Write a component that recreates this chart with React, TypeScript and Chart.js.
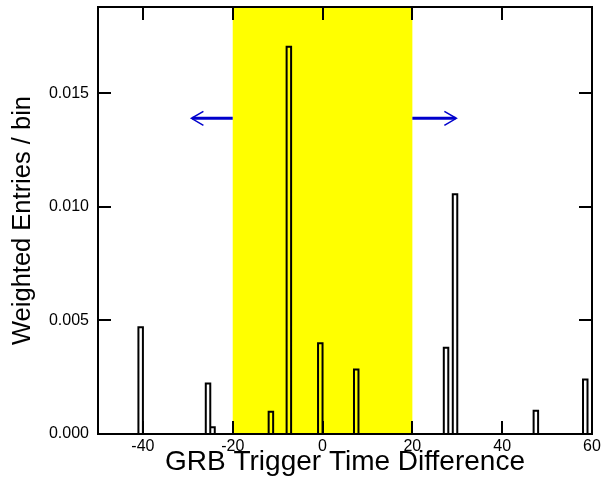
import React, { useEffect, useRef } from "react";
import { Chart, registerables } from "chart.js";

Chart.register(...registerables);

// Histogram bins (lower edge, width 1) and weighted entries
const binLowEdges = [-41, -26, -25, -12, -8, -1, 7, 27, 29, 47, 58];
const binValues = [0.0047, 0.00222, 0.0003, 0.00098, 0.01705, 0.0040, 0.00284, 0.0038, 0.01056, 0.00102, 0.0024];
const binWidth = 1;

const xTickValues = [-40, -20, 0, 20, 40, 60];
const yTickValues = [0, 0.005, 0.01, 0.015];

const bandRange = [-20, 20];
const arrowY = 0.0139;
const arrowStarts = [-20, 20];
const arrowEnds = [-29.2, 29.8];

const X_MIN = -50;
const X_MAX = 60;
const Y_MIN = 0;
const Y_MAX = 0.0188;

function buildOutline() {
  const pts: { x: number; y: number }[] = [];
  binLowEdges.forEach((lo, i) => {
    const hi = lo + binWidth;
    const v = binValues[i];
    pts.push({ x: lo, y: 0 }, { x: lo, y: v }, { x: hi, y: v }, { x: hi, y: 0 });
  });
  return pts;
}

const bandPlugin = {
  id: "band",
  beforeDatasetsDraw(chart: any) {
    const { ctx, chartArea, scales } = chart;
    const x0 = scales.x.getPixelForValue(bandRange[0]);
    const x1 = scales.x.getPixelForValue(bandRange[1]);
    ctx.save();
    ctx.fillStyle = "#ffff00";
    ctx.fillRect(x0, chartArea.top, x1 - x0, chartArea.bottom - chartArea.top);
    ctx.restore();
  },
};

const arrowPlugin = {
  id: "arrows",
  afterDatasetsDraw(chart: any) {
    const { ctx, scales } = chart;
    const y = scales.y.getPixelForValue(arrowY);
    ctx.save();
    ctx.strokeStyle = "#0000cc";
    arrowStarts.forEach((s, i) => {
      const xs = scales.x.getPixelForValue(s);
      const xe = scales.x.getPixelForValue(arrowEnds[i]);
      const dir = xe < xs ? 1 : -1;
      ctx.lineWidth = 3;
      ctx.beginPath();
      ctx.moveTo(xs, y);
      ctx.lineTo(xe + dir * 1, y);
      ctx.stroke();
      ctx.lineWidth = 1.5;
      ctx.beginPath();
      ctx.moveTo(xe + dir * 12, y - 7);
      ctx.lineTo(xe, y);
      ctx.lineTo(xe + dir * 12, y + 7);
      ctx.stroke();
    });
    ctx.restore();
  },
};

const framePlugin = {
  id: "frame",
  afterDraw(chart: any) {
    const { ctx, chartArea, scales } = chart;
    const { left, right, top, bottom } = chartArea;
    const t = 13;
    ctx.save();
    ctx.strokeStyle = "#000";
    ctx.lineWidth = 2;
    ctx.beginPath();
    xTickValues.forEach((v) => {
      const x = Math.round(scales.x.getPixelForValue(v));
      ctx.moveTo(x, bottom);
      ctx.lineTo(x, bottom - t);
      ctx.moveTo(x, top);
      ctx.lineTo(x, top + t);
    });
    yTickValues.forEach((v) => {
      const y = Math.round(scales.y.getPixelForValue(v));
      ctx.moveTo(left, y);
      ctx.lineTo(left + t, y);
      ctx.moveTo(right, y);
      ctx.lineTo(right - t, y);
    });
    ctx.stroke();
    ctx.strokeRect(left, top, right - left, bottom - top);
    ctx.restore();
  },
};

const FONT = "Liberation Sans, Arial, sans-serif";

export default function App() {
  const ref = useRef<HTMLCanvasElement>(null);
  useEffect(() => {
    document.body.style.margin = "0";
    const canvas = ref.current!;
    const chart = new Chart(canvas, {
      type: "line",
      data: {
        datasets: [
          {
            data: buildOutline(),
            borderColor: "#000",
            borderWidth: 2,
            pointRadius: 0,
            tension: 0,
            fill: false,
          },
        ],
      },
      options: {
        animation: false,
        responsive: false,
        devicePixelRatio: 1,
        layout: { padding: { top: 7, right: 10, left: 0, bottom: 0 } },
        plugins: { legend: { display: false }, tooltip: { enabled: false } },
        scales: {
          x: {
            type: "linear",
            min: X_MIN,
            max: X_MAX,
            grid: { display: false, drawTicks: false },
            border: { display: false },
            afterBuildTicks: (s: any) => {
              s.ticks = xTickValues.map((v) => ({ value: v }));
            },
            afterFit: (s: any) => {
              s.height = 45;
              s.paddingLeft = 0;
              s.paddingRight = 0;
            },
            ticks: {
              color: "#000",
              font: { family: FONT, size: 16 },
              padding: 3,
              maxRotation: 0,
              autoSkip: false,
              callback: (v: any) => String(v),
            },
            title: {
              display: true,
              text: "GRB Trigger Time Difference",
              color: "#000",
              font: { family: FONT, size: 28 },
              padding: { top: 0, bottom: 0 },
            },
          },
          y: {
            type: "linear",
            min: Y_MIN,
            max: Y_MAX,
            grid: { display: false, drawTicks: false },
            border: { display: false },
            afterBuildTicks: (s: any) => {
              s.ticks = yTickValues.map((v) => ({ value: v }));
            },
            afterFit: (s: any) => {
              s.width = 98;
              s.paddingTop = 0;
              s.paddingBottom = 0;
            },
            ticks: {
              color: "#000",
              font: { family: FONT, size: 16 },
              padding: 9,
              autoSkip: false,
              callback: (v: any) => Number(v).toFixed(3),
            },
            title: {
              display: true,
              text: "Weighted Entries / bin",
              color: "#000",
              font: { family: FONT, size: 25.5 },
              padding: { top: 8, bottom: 0 },
            },
          },
        },
      },
      plugins: [bandPlugin, arrowPlugin, framePlugin],
    });
    return () => chart.destroy();
  }, []);
  return <canvas ref={ref} width={602} height={479} style={{ display: "block" }} />;
}
